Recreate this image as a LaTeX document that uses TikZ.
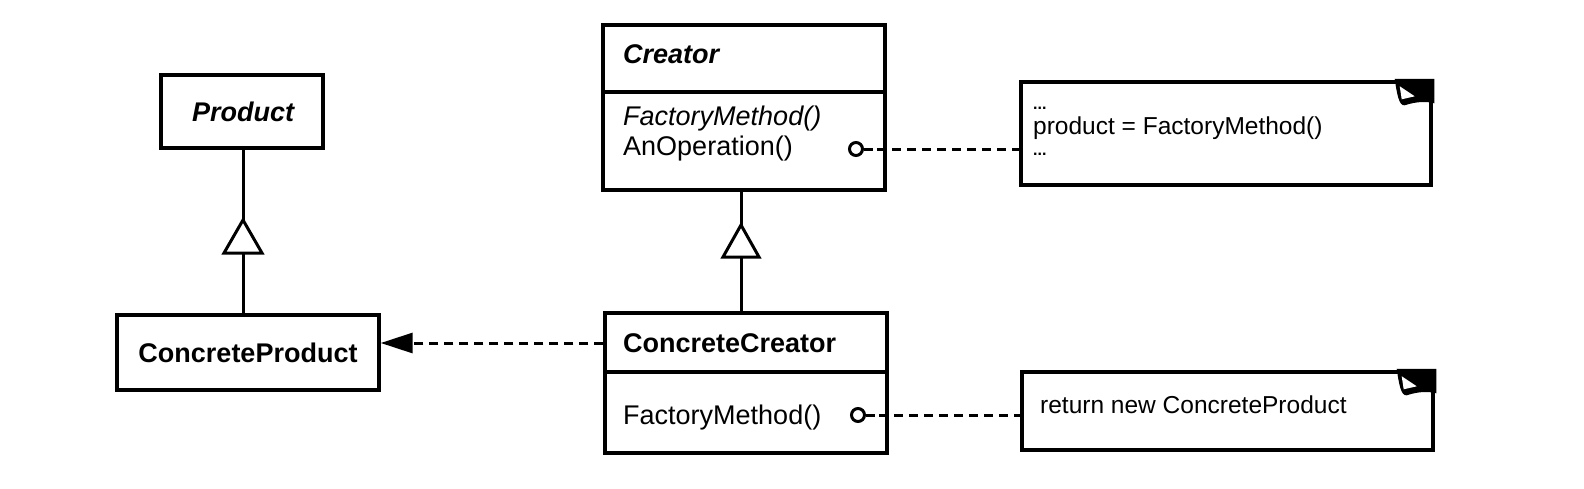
\documentclass[tikz,border=0pt]{standalone}
\usepackage{fontspec}
\setmainfont{Liberation Sans}
\usetikzlibrary{arrows.meta}
\tikzset{
  box/.style={draw, line width=3.4pt, rectangle, inner sep=0pt, fill=white},
  cls/.style={font=\fontsize{27}{32}\selectfont, inner sep=0pt},
  notetext/.style={font=\fontsize{24.5}{29}\selectfont, inner sep=0pt, anchor=base west},
  dots/.style={font=\fontsize{16}{19}\selectfont\bfseries, inner sep=0pt, anchor=base west},
  conn/.style={line width=3pt},
  dashline/.style={line width=3pt, dash pattern=on 9pt off 6pt},
  hollowtri/.style={line width=3pt, fill=white, line join=miter},
  knob/.style={circle, draw, line width=3pt, minimum size=13pt, inner sep=0pt, fill=white}
}
\newcommand{\myDogEar}[1]{%
  \begin{scope}[shift={(#1.north east)}]
    \fill[black] (-38,-1.5) -- (1.7,-1.5) -- (1.7,23) .. controls (-6,21) and (-16,21) .. (-28,25)
      .. controls (-34,26) and (-36,12) .. (-38,-1.5) -- cycle;
    \fill[white] (-33,6) -- (-31,19) -- (-18,16) -- cycle;
  \end{scope}}
\begin{document}
\begin{tikzpicture}[x=1pt,y=-1pt]
\useasboundingbox (0,0) rectangle (1584,488);

% Product
\node[box, minimum width=162pt, minimum height=73pt] (product) at (242,111.5) {};
\node[cls] (productT) at (243,112) {\bfseries\itshape Product};

% ConcreteProduct
\node[box, minimum width=262pt, minimum height=75pt] (cproduct) at (248,352.5) {};
\node[cls] (cproductT) at (248,353) {\bfseries ConcreteProduct};

% Creator
\node[box, minimum width=282pt, minimum height=165pt] (creator) at (744,107.5) {};
\draw[line width=3.4pt] (creator.west |- 0,92) -- (creator.east |- 0,92);
\node[cls, anchor=base west] (creatorT) at (623,63) {\bfseries\itshape Creator};
\node[cls, anchor=base west] (creatorFM) at (623,125) {\itshape FactoryMethod()};
\node[cls, anchor=base west] (creatorAO) at (623,155) {AnOperation()};

% ConcreteCreator
\node[box, minimum width=282pt, minimum height=140pt] (ccreator) at (746,383) {};
\draw[line width=3.4pt] (ccreator.west |- 0,372) -- (ccreator.east |- 0,372);
\node[cls, anchor=base west] (ccreatorT) at (623,352) {\bfseries ConcreteCreator};
\node[cls, anchor=base west] (ccreatorFM) at (623,424) {FactoryMethod()};

% Notes
\node[box, minimum width=410pt, minimum height=103pt] (note1) at (1226,133.5) {};
\myDogEar{note1}
\node[dots] (n1a) at (1033,109.5) {...};
\node[notetext] (n1b) at (1033,134.5) {product = FactoryMethod()};
\node[dots] (n1c) at (1033,155.5) {...};

\node[box, minimum width=411pt, minimum height=78pt] (note2) at (1227.5,411) {};
\myDogEar{note2}
\node[notetext] (n2a) at (1040,413) {return new ConcreteProduct};

% Generalization Product <- ConcreteProduct
\coordinate (g1apex) at (243,220);
\draw[conn] (243,0 |- product.south) -- (g1apex);
\draw[conn] (243,253) -- (243,0 |- cproduct.north);
\draw[hollowtri] (g1apex) -- (262,253) -- (224,253) -- cycle;

% Generalization Creator <- ConcreteCreator
\coordinate (g2apex) at (741,225);
\draw[conn] (741,0 |- creator.south) -- (g2apex);
\draw[conn] (741,257) -- (741,0 |- ccreator.north);
\draw[hollowtri] (g2apex) -- (759,257) -- (723,257) -- cycle;

% ConcreteCreator ..> ConcreteProduct
\draw[dashline, -{Triangle[length=32pt,width=20pt]}] (ccreator.west |- 0,343) -- (cproduct.east |- 0,343);

% Knobs to notes
\node[knob] (k1) at (856,149) {};
\draw[conn] (k1.east) -- ++(9,0) coordinate (s1);
\draw[dashline] (s1) ++(4,0) -- (note1.west |- k1);

\node[knob] (k2) at (858,415) {};
\draw[conn] (k2.east) -- ++(9,0) coordinate (s2);
\draw[dashline] (s2) ++(4,0) -- (note2.west |- k2);
\end{tikzpicture}
\end{document}
